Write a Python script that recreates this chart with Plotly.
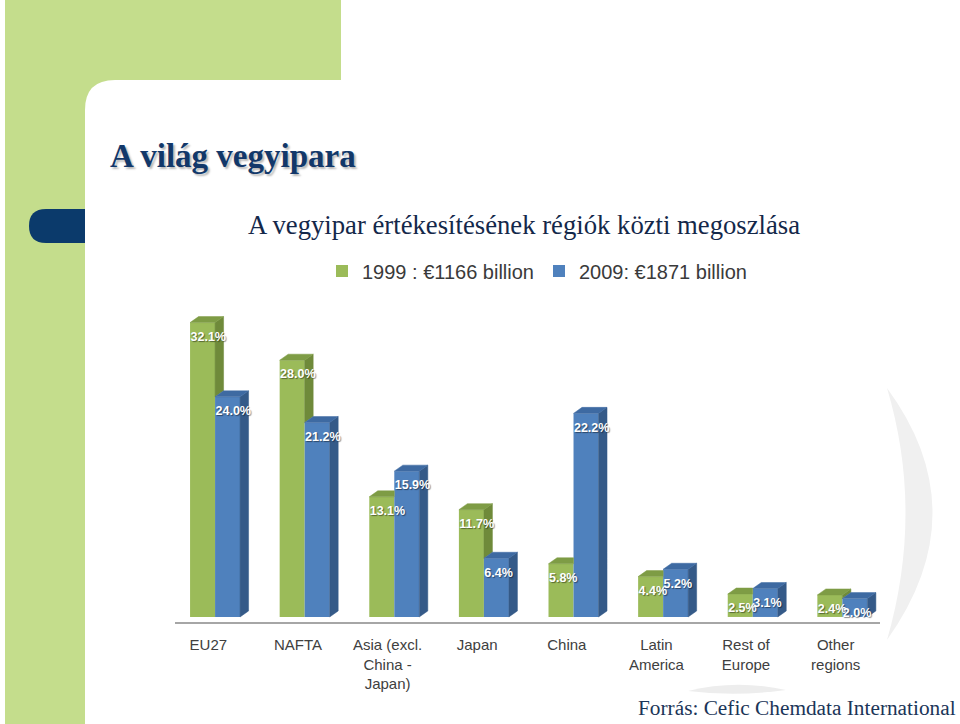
import plotly.graph_objects as go

# ---------------- data ----------------
categories = ["EU27", "NAFTA", "Asia (excl.<br>China -<br>Japan)", "Japan", "China",
              "Latin<br>America", "Rest of<br>Europe", "Other<br>regions"]
share_1999 = [32.1, 28.0, 13.1, 11.7, 5.8, 4.4, 2.5, 2.4]
share_2009 = [24.0, 21.2, 15.9, 6.4, 22.2, 5.2, 3.1, 2.0]
series_names = ["1999 : €1166 billion", "2009: €1871 billion"]

title_text = "A világ vegyipara"
subtitle_text = "A vegyipar értékesítésének régiók közti megoszlása"
source_text = "Forrás: Cefic Chemdata International"

# ---------------- layout constants ----------------
W, H = 960, 724
L, R, T, B = 175, 880, 296, 622          # plot area in px
YMIN, YMAX = -0.55, 35.0
XMIN, XMAX = -0.447, 7.42
BAR_W = 0.279      # width of each bar (category units)
DX = 0.095         # 3D depth, horizontal (category units)
DY = 0.655         # 3D depth, vertical (value units)
LABEL_DROP = 1.65  # data label offset below top

GREEN, GREEN_SIDE, GREEN_TOP = "#9BBB59", "#6F8A3A", "#7E9C45"
BLUE, BLUE_SIDE, BLUE_TOP = "#4F81BD", "#355A88", "#3E6AA2"
PANEL = "#C4DD8C"
NAVY = "#0B3A6B"


def px(x):
    return (x - L) / (R - L)


def py(y):
    return (B - y) / (B - T)


def path_px(cmds):
    """cmds: list of (letter, [(x,y),...]) in pixels -> svg path in paper coords"""
    out = []
    for c, pts in cmds:
        if c == "Z":
            out.append("Z")
        else:
            out.append(c + " ".join(f"{px(a):.5f},{py(b):.5f}" for a, b in pts))
    return " ".join(out)


def poly_xy(polys):
    xs, ys = [], []
    for pts in polys:
        for (a, b) in pts + [pts[0]]:
            xs.append(a)
            ys.append(b)
        xs.append(None)
        ys.append(None)
    return xs, ys


pos = list(range(len(categories)))

# ---------------- 3D faces derived from data ----------------
g_side, g_top, b_side, b_top = [], [], [], []
for i, vg, vb in zip(pos, share_1999, share_2009):
    # blue faces (front-most)
    b_side.append([(i + BAR_W, 0), (i + BAR_W + DX, DY), (i + BAR_W + DX, vb + DY), (i + BAR_W, vb)])
    b_top.append([(i, vb), (i + BAR_W, vb), (i + BAR_W + DX, vb + DY), (i + DX, vb + DY)])
    # green faces (partly hidden by blue bar)
    if vg > vb:
        g_side.append([(i, vb), (i + DX, vb + DY), (i + DX, vg + DY), (i, vg)])
        g_top.append([(i - BAR_W, vg), (i, vg), (i + DX, vg + DY), (i - BAR_W + DX, vg + DY)])
    else:
        g_top.append([(i - BAR_W, vg), (i, vg), (i, vg + DY), (i - BAR_W + DX, vg + DY)])

fig = go.Figure()

fig.add_trace(go.Bar(x=pos, y=share_1999, width=BAR_W, offset=-BAR_W, name=series_names[0],
                     marker=dict(color=GREEN, line=dict(width=0)), hoverinfo="skip"))
fig.add_trace(go.Bar(x=pos, y=share_2009, width=BAR_W, offset=0, name=series_names[1],
                     marker=dict(color=BLUE, line=dict(width=0)), hoverinfo="skip"))

for polys, col in [(g_side, GREEN_SIDE), (g_top, GREEN_TOP), (b_side, BLUE_SIDE), (b_top, BLUE_TOP)]:
    xs, ys = poly_xy(polys)
    fig.add_trace(go.Scatter(x=xs, y=ys, mode="lines", fill="toself", fillcolor=col,
                             line=dict(width=0.5, color=col), hoverinfo="skip", showlegend=False))

# data labels
lab_font = dict(family="Liberation Sans, Arial", size=12.5, color="white", weight="bold",
                shadow="1px 1px 1px rgba(0,0,0,0.45)")
fig.add_trace(go.Scatter(x=[i - BAR_W + 0.005 for i in pos], y=[v - LABEL_DROP for v in share_1999],
                         mode="text", text=[f"{v:.1f}%" for v in share_1999], textposition="middle right",
                         textfont=lab_font, showlegend=False, hoverinfo="skip", cliponaxis=False))
fig.add_trace(go.Scatter(x=[i + 0.005 for i in pos], y=[v - LABEL_DROP for v in share_2009],
                         mode="text", text=[f"{v:.1f}%" for v in share_2009], textposition="middle right",
                         textfont=lab_font, showlegend=False, hoverinfo="skip", cliponaxis=False))

# ---------------- slide decoration ----------------
shapes = [
    # green panel (left column + top band)
    dict(type="rect", xref="paper", yref="paper", x0=px(5), x1=px(341), y0=py(0), y1=py(H),
         fillcolor=PANEL, line=dict(width=0), layer="below"),
    # navy pill
    dict(type="path", xref="paper", yref="paper",
         path=path_px([("M", [(86, 209)]), ("L", [(46, 209)]), ("Q", [(29, 209), (29, 226)]),
                       ("Q", [(29, 243), (46, 243)]), ("L", [(86, 243)]), ("Z", [])]),
         fillcolor=NAVY, line=dict(width=0), layer="below"),
    # white content area with rounded corner
    dict(type="path", xref="paper", yref="paper",
         path=path_px([("M", [(85, H)]), ("L", [(85, 110)]), ("Q", [(85, 80), (115, 80)]),
                       ("L", [(W, 80)]), ("L", [(W, H)]), ("Z", [])]),
         fillcolor="white", line=dict(width=0), layer="below"),
    # faint watermark crescent
    dict(type="path", xref="paper", yref="paper",
         path=path_px([("M", [(887, 388)]), ("Q", [(978, 512), (887, 640)]),
                       ("Q", [(924, 512), (887, 388)]), ("Z", [])]),
         fillcolor="#F0F0F0", line=dict(width=0), layer="below"),
    dict(type="path", xref="paper", yref="paper",
         path=path_px([("M", [(688, 691)]), ("Q", [(736, 679), (786, 690)]),
                       ("Q", [(736, 697), (688, 691)]), ("Z", [])]),
         fillcolor="#EDEDED", line=dict(width=0), layer="below"),
]

annotations = [
    dict(xref="paper", yref="paper", x=px(108), y=py(156), xanchor="left", yanchor="middle",
         text=title_text, showarrow=False,
         font=dict(family="Liberation Serif, Times New Roman", size=33, color="#12386A", weight="bold",
                   shadow="2px 2px 2px #B8B8B8")),
    dict(xref="paper", yref="paper", x=px(246), y=py(225), xanchor="left", yanchor="middle",
         text=subtitle_text, showarrow=False,
         font=dict(family="Liberation Serif, Times New Roman", size=26.7, color="#14284A")),
    dict(xref="paper", yref="paper", x=px(636), y=py(708), xanchor="left", yanchor="middle",
         text=source_text, showarrow=False,
         font=dict(family="Liberation Serif, Times New Roman", size=21.3, color="#1B3558")),
]

fig.update_layout(
    width=W, height=H,
    margin=dict(l=L, r=W - R, t=T, b=H - B, pad=0),
    paper_bgcolor="white", plot_bgcolor="rgba(0,0,0,0)",
    barmode="overlay",
    showlegend=True,
    legend=dict(orientation="h", x=px(322), xanchor="left", y=py(271), yanchor="middle",
                font=dict(family="Liberation Sans, Arial", size=20, color="#3A3A3A"),
                bgcolor="rgba(0,0,0,0)", itemclick=False, traceorder="normal"),
    shapes=shapes,
    annotations=annotations,
    xaxis=dict(range=[XMIN, XMAX], tickmode="array", tickvals=[i - 0.075 for i in pos],
               ticktext=categories, showgrid=False, zeroline=False, showline=True,
               linecolor="#A6A6A6", linewidth=2, ticks="", ticklabelstandoff=8,
               tickfont=dict(family="Liberation Sans, Arial", size=15, color="#404040")),
    yaxis=dict(range=[YMIN, YMAX], showgrid=False, zeroline=False, showticklabels=False,
               showline=False, ticks=""),
)

fig.write_html("out.html")
